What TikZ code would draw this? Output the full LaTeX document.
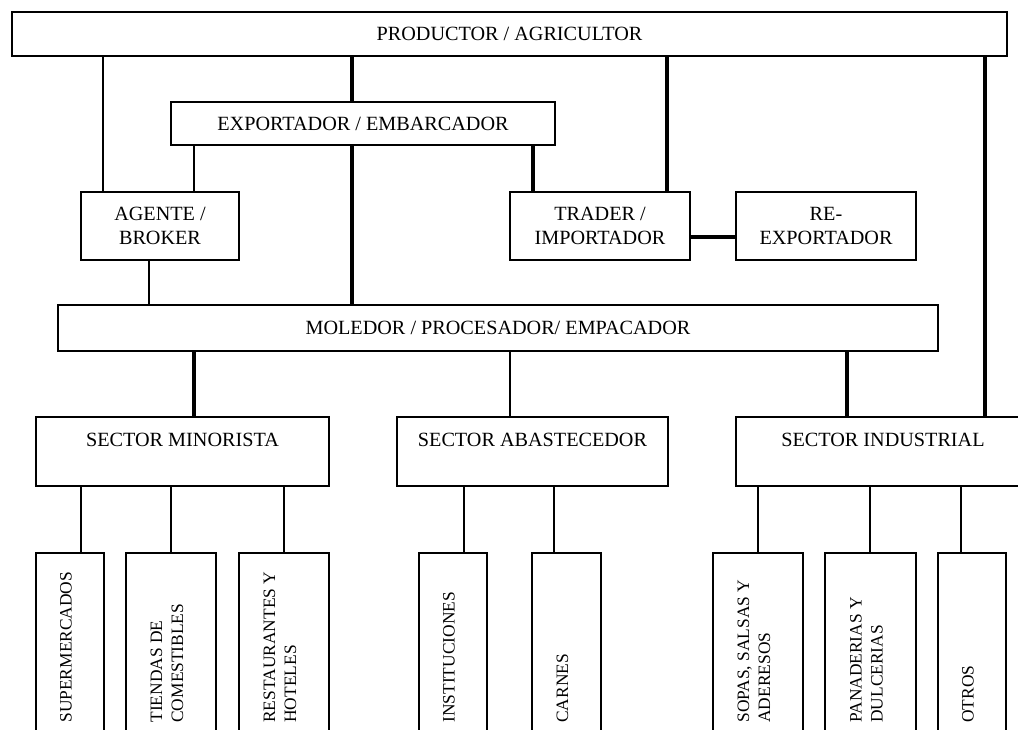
\documentclass[tikz,border=0pt]{standalone}
\usepackage{fontspec}
\setmainfont{Liberation Serif}
\tikzset{
  caja/.style={draw, line width=1.6pt, inner sep=0pt, align=center, font=\fontsize{20.2}{24.5}\selectfont},
  sector/.style={caja, text height=29.5pt, text depth=39.5pt},
  hoja/.style={draw, line width=1.6pt, inner sep=0pt, minimum height=207pt},
  textohoja/.style={rotate=90, anchor=west, inner sep=0pt, align=left, font=\fontsize{17.4}{21}\selectfont},
  fina/.style={line width=1.3pt},
  media/.style={line width=1.7pt},
  gruesa/.style={line width=3.2pt}
}

\begin{document}
\begin{tikzpicture}[x=1pt,y=-1pt]
  \useasboundingbox (0,0) rectangle (1018,729);
  \clip (0,0) rectangle (1018,729);
  % cadena principal
  \node[caja, minimum width=995pt, minimum height=44pt] (prod) at (509.5,34) {PRODUCTOR / AGRICULTOR};
  \node[caja, minimum width=384pt, minimum height=43pt] (exp) at (363,123.5) {EXPORTADOR / EMBARCADOR};
  \node[caja, minimum width=158pt, minimum height=68pt] (agente) at (160,226) {AGENTE /\\BROKER};
  \node[caja, minimum width=180pt, minimum height=68pt] (trader) at (600,226) {TRADER /\\IMPORTADOR};
  \node[caja, minimum width=180pt, minimum height=68pt] (reexp) at (826,226) {RE-\\EXPORTADOR};
  \node[caja, minimum width=880pt, minimum height=46pt] (mol) at (498,328) {MOLEDOR / PROCESADOR/ EMPACADOR};
  % sectores
  \node[sector, minimum width=293pt] (smin) at (182.5,451.5) {SECTOR MINORISTA};
  \node[sector, minimum width=271pt] (sabs) at (532.5,451.5) {SECTOR ABASTECEDOR};
  \node[sector, minimum width=294pt] (sind) at (883,451.5) {SECTOR INDUSTRIAL};
  % destinos finales
  \node[hoja, minimum width=68pt] (super) at (70,656.5) {};
  \node[hoja, minimum width=90pt] (tiendas) at (171,656.5) {};
  \node[hoja, minimum width=90pt] (rest) at (284,656.5) {};
  \node[hoja, minimum width=68pt] (inst) at (453,656.5) {};
  \node[hoja, minimum width=69pt] (carnes) at (566.5,656.5) {};
  \node[hoja, minimum width=90pt] (sopas) at (758,656.5) {};
  \node[hoja, minimum width=91pt] (pan) at (870.5,656.5) {};
  \node[hoja, minimum width=68pt] (otros) at (972,656.5) {};
  \node[textohoja] (tsuper) at ([shift={(-4pt,38pt)}]super.south) {SUPERMERCADOS};
  \node[textohoja] (ttiendas) at ([shift={(-4pt,38pt)}]tiendas.south) {TIENDAS DE\\COMESTIBLES};
  \node[textohoja] (trest) at ([shift={(-4pt,38pt)}]rest.south) {RESTAURANTES Y\\HOTELES};
  \node[textohoja] (tinst) at ([shift={(-4pt,38pt)}]inst.south) {INSTITUCIONES};
  \node[textohoja] (tcarnes) at ([shift={(-4pt,38pt)}]carnes.south) {CARNES};
  \node[textohoja] (tsopas) at ([shift={(-4pt,38pt)}]sopas.south) {SOPAS, SALSAS Y\\ADERESOS};
  \node[textohoja] (tpan) at ([shift={(-4pt,38pt)}]pan.south) {PANADERIAS Y\\DULCERIAS};
  \node[textohoja] (totros) at ([shift={(-4pt,38pt)}]otros.south) {OTROS};
  % conexiones
  \draw[fina] (103,0 |- prod.south) -- (103,0 |- agente.north);
  \draw[gruesa] (352,0 |- prod.south) -- (352,0 |- exp.north);
  \draw[gruesa] (667,0 |- prod.south) -- (667,0 |- trader.north);
  \draw[gruesa] (985,0 |- prod.south) -- (985,0 |- sind.north);
  \draw[fina] (194,0 |- exp.south) -- (194,0 |- agente.north);
  \draw[gruesa] (533,0 |- exp.south) -- (533,0 |- trader.north);
  \draw[gruesa] (352,0 |- exp.south) -- (352,0 |- mol.north);
  \draw[line width=4.2pt] (trader.east |- 0,237) -- (reexp.west |- 0,237);
  \draw[fina] (149,0 |- agente.south) -- (149,0 |- mol.north);
  \draw[gruesa] (194,0 |- mol.south) -- (194,0 |- smin.north);
  \draw[fina] (510,0 |- mol.south) -- (510,0 |- sabs.north);
  \draw[gruesa] (847,0 |- mol.south) -- (847,0 |- sind.north);
  \draw[media] (81,0 |- smin.south) -- (81,0 |- super.north);
  \draw[media] (171,0 |- smin.south) -- (171,0 |- tiendas.north);
  \draw[media] (284,0 |- smin.south) -- (284,0 |- rest.north);
  \draw[media] (464,0 |- sabs.south) -- (464,0 |- inst.north);
  \draw[media] (554,0 |- sabs.south) -- (554,0 |- carnes.north);
  \draw[media] (758,0 |- sind.south) -- (758,0 |- sopas.north);
  \draw[media] (870,0 |- sind.south) -- (870,0 |- pan.north);
  \draw[media] (961,0 |- sind.south) -- (961,0 |- otros.north);
\end{tikzpicture}
\end{document}
